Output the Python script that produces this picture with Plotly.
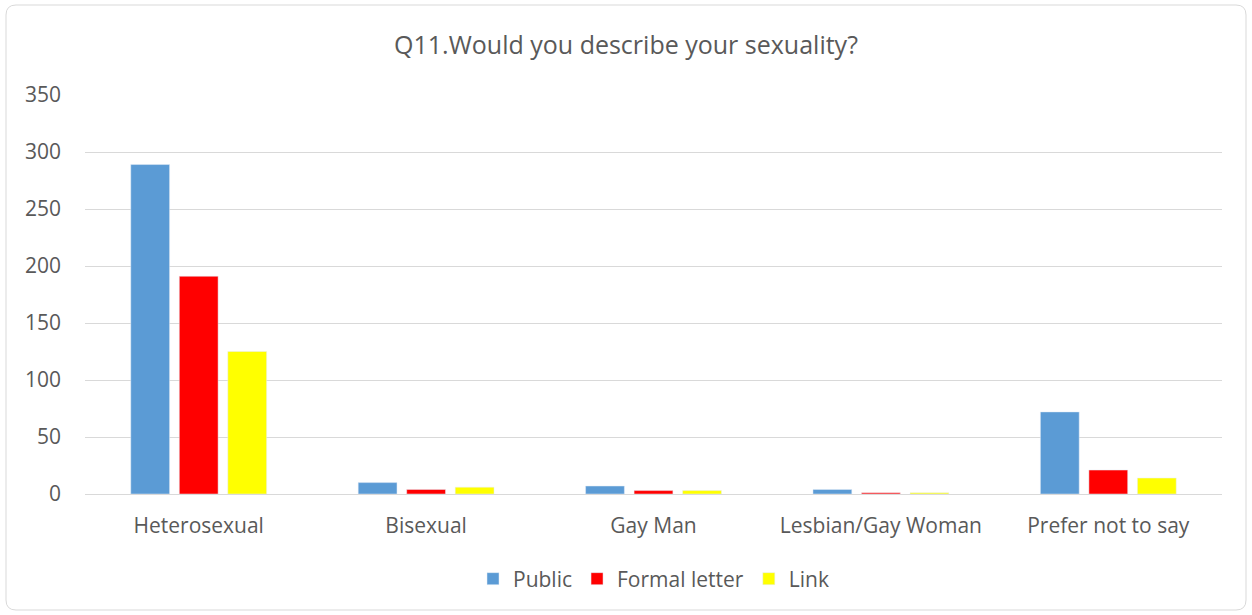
import plotly.graph_objects as go

categories = ["Heterosexual", "Bisexual", "Gay Man", "Lesbian/Gay Woman", "Prefer not to say"]
public = [289, 10, 7, 4, 72]
formal_letter = [191, 4, 3, 1, 21]
link = [125, 6, 3, 1, 14]

W, H = 1252, 615
L, R, T, B = 85, 30, 95, 121
pw, ph = W - L - R, H - T - B

def px(x):
    return (x - L) / pw

def py(y):
    return (H - B - y) / ph

fig = go.Figure()
fig.add_bar(name="Public", x=categories, y=public, marker_color="#5B9BD5")
fig.add_bar(name="Formal letter", x=categories, y=formal_letter, marker_color="#FF0000")
fig.add_bar(name="Link", x=categories, y=link, marker_color="#FFFF00")

# rounded border around chart area
x0, x1, y0, y1, r = 6, 1246, 5, 610, 10
path = (f"M {px(x0+r)},{py(y0)} L {px(x1-r)},{py(y0)} "
        f"Q {px(x1)},{py(y0)} {px(x1)},{py(y0+r)} L {px(x1)},{py(y1-r)} "
        f"Q {px(x1)},{py(y1)} {px(x1-r)},{py(y1)} L {px(x0+r)},{py(y1)} "
        f"Q {px(x0)},{py(y1)} {px(x0)},{py(y1-r)} L {px(x0)},{py(y0+r)} "
        f"Q {px(x0)},{py(y0)} {px(x0+r)},{py(y0)} Z")
fig.add_shape(type="path", path=path, xref="paper", yref="paper",
              line=dict(color="#D9D9D9", width=1), layer="below")

font = "'Open Sans', sans-serif"
fig.update_layout(
    width=W, height=H,
    margin=dict(l=L, r=R, t=T, b=B),
    paper_bgcolor="white", plot_bgcolor="white",
    barmode="group", bargap=0.36, bargroupgap=0.2,
    title=dict(text="Q11.Would you describe your sexuality?", x=0.5, xanchor="center",
               y=1 - 45 / H, yanchor="middle",
               font=dict(family=font, size=25, color="#595959")),
    font=dict(family=font, color="#595959", size=21),
    yaxis=dict(range=[0, 350], dtick=50, showgrid=True, gridcolor="#D9D9D9", gridwidth=1,
               zeroline=False, showline=False, ticks="", ticklabelstandoff=23,
               tickfont=dict(size=21, color="#595959")),
    xaxis=dict(showline=True, linecolor="#D9D9D9", linewidth=1, ticks="",
               tickfont=dict(size=21, color="#595959"), ticklabelstandoff=13),
    legend=dict(orientation="h", x=0.5, xanchor="center", y=py(579), yanchor="middle",
                font=dict(size=21, color="#595959"), itemwidth=30, traceorder="normal"),
)

fig.write_html("out.html")
